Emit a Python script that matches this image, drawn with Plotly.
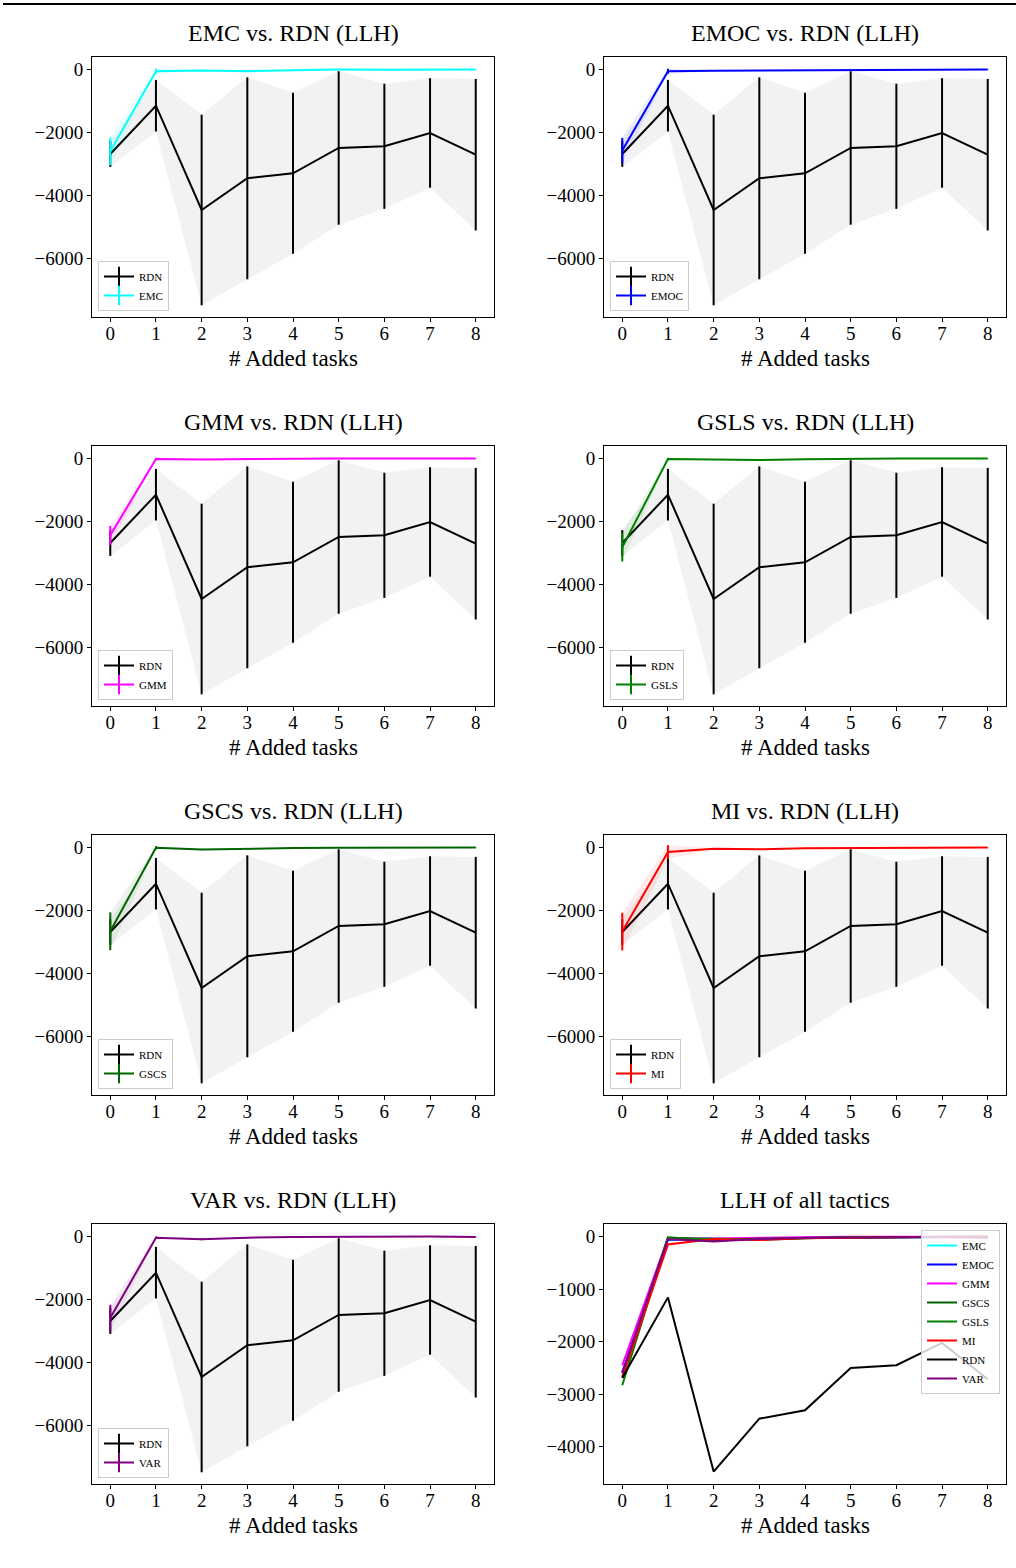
import plotly.graph_objects as go

# ---------------- data ----------------
x_tasks = [0, 1, 2, 3, 4, 5, 6, 7, 8]

rdn_mean = [-2693, -1157, -4474, -3466, -3307, -2502, -2448, -2025, -2715]
rdn_std = [410, 820, 3030, 3210, 2560, 2440, 1990, 1740, 2410]

emc_mean = [-2610, -60, -35, -60, -30, -10, -15, -15, -5]
emc_std = [440, 80, 20, 20, 15, 10, 10, 10, 8]

emoc_mean = [-2580, -60, -45, -40, -25, -15, -15, -10, -5]
emoc_std = [400, 80, 15, 15, 10, 10, 8, 8, 5]

gmm_mean = [-2450, -25, -35, -20, -10, -5, -5, -5, -5]
gmm_std = [300, 40, 15, 10, 8, 5, 5, 5, 5]

gsls_mean = [-2830, -25, -40, -55, -30, -10, -10, -5, -5]
gsls_std = [450, 40, 15, 15, 10, 8, 5, 5, 5]

gscs_mean = [-2670, -15, -70, -40, -25, -15, -10, -5, -5]
gscs_std = [600, 50, 20, 15, 10, 8, 5, 5, 5]

mi_mean = [-2680, -150, -45, -65, -30, -20, -5, -5, -5]
mi_std = [600, 220, 20, 20, 15, 10, 5, 5, 5]

var_mean = [-2600, -45, -95, -45, -20, -10, -10, -10, -20]
var_std = [420, 40, 30, 15, 10, 8, 8, 8, 8]

method_names = ["EMC", "EMOC", "GMM", "GSLS", "GSCS", "MI", "VAR"]
method_means = [emc_mean, emoc_mean, gmm_mean, gsls_mean, gscs_mean, mi_mean, var_mean]
method_stds = [emc_std, emoc_std, gmm_std, gsls_std, gscs_std, mi_std, var_std]
method_colors = {"EMC": (0, 255, 255), "EMOC": (0, 0, 255), "GMM": (255, 0, 255),
                 "GSLS": (0, 128, 0), "GSCS": (0, 100, 0), "MI": (255, 0, 0),
                 "VAR": (128, 0, 128), "RDN": (0, 0, 0)}

all_order = ["EMC", "EMOC", "GMM", "GSCS", "GSLS", "MI", "RDN", "VAR"]

x_ticks = [0, 1, 2, 3, 4, 5, 6, 7, 8]
y_ticks_pair = [0, -2000, -4000, -6000]
y_ticks_all = [0, -1000, -2000, -3000, -4000]

# ---------------- layout geometry ----------------
W, H = 1016, 1568
FONT = "Liberation Serif"
col_lr = [(92, 494), (604, 1006)]
row_tops = [57, 446, 835, 1224]
PANEL_H = 260


def rgb(c, a=1.0):
    return "rgba(%d,%d,%d,%s)" % (c[0], c[1], c[2], a)


def minus(v):
    return ("\u2212%d" % -v) if v < 0 else "%d" % v


fig = go.Figure()
annotations = []
layout_axes = {}
legends = {}


def add_band_and_line(i, name, mean, std, col, legend_id, fillcolor):
    xa, ya = "x%d" % (i + 1), "y%d" % (i + 1)
    upper = [m + s for m, s in zip(mean, std)]
    lower = [m - s for m, s in zip(mean, std)]
    fig.add_trace(go.Scatter(
        x=x_tasks + x_tasks[::-1], y=upper + lower[::-1], fill="toself",
        fillcolor=fillcolor, line=dict(width=0), mode="lines",
        showlegend=False, hoverinfo="skip", xaxis=xa, yaxis=ya))
    fig.add_trace(go.Scatter(
        x=x_tasks, y=mean, mode="lines", line=dict(color=rgb(col), width=2),
        error_y=dict(type="data", array=std, visible=True, thickness=2, width=0, color=rgb(col)),
        showlegend=False, xaxis=xa, yaxis=ya))
    # legend proxy (line with vertical tick like matplotlib errorbar handle)
    fig.add_trace(go.Scatter(
        x=[None], y=[None], mode="lines+markers", name=name,
        line=dict(color=rgb(col), width=2),
        marker=dict(symbol="line-ns-open", size=14, line=dict(width=2, color=rgb(col))),
        legend=legend_id, xaxis=xa, yaxis=ya))


for i in range(8):
    r, c = divmod(i, 2)
    x0, x1 = col_lr[c]
    top = row_tops[r]
    bot = top + PANEL_H
    dom_x = [x0 / W, x1 / W]
    dom_y = [1 - bot / H, 1 - top / H]
    legend_id = "legend" if i == 0 else "legend%d" % (i + 1)

    if i < 7:
        name = method_names[i]
        add_band_and_line(i, "RDN", rdn_mean, rdn_std, method_colors["RDN"], legend_id,
                          "rgba(128,128,128,0.1)")
        add_band_and_line(i, name, method_means[i], method_stds[i], method_colors[name], legend_id,
                          rgb(method_colors[name], 0.08))
        title = "%s vs. RDN (LLH)" % name
        yr = [-7876, 391]
        yt = y_ticks_pair
        legends[legend_id] = dict(
            x=(x0 + 6) / W, y=1 - (bot - 6) / H, xanchor="left", yanchor="bottom",
            bgcolor="rgba(255,255,255,0.8)", bordercolor="rgb(204,204,204)", borderwidth=1,
            font=dict(family=FONT, size=11, color="black"), tracegroupgap=0,
            itemwidth=30)
    else:
        lookup = dict(zip(method_names, method_means))
        lookup["RDN"] = rdn_mean
        for name in all_order:
            fig.add_trace(go.Scatter(
                x=x_tasks, y=lookup[name], mode="lines", name=name,
                line=dict(color=rgb(method_colors[name]), width=2),
                legend=legend_id, xaxis="x8", yaxis="y8"))
        title = "LLH of all tactics"
        yr = [-4710, 240]
        yt = y_ticks_all
        legends[legend_id] = dict(
            x=(x1 - 6) / W, y=1 - (top + 6) / H, xanchor="right", yanchor="top",
            bgcolor="rgba(255,255,255,0.8)", bordercolor="rgb(204,204,204)", borderwidth=1,
            font=dict(family=FONT, size=11, color="black"), tracegroupgap=0,
            itemwidth=30)

    axis_common = dict(showline=True, mirror=True, linecolor="black", linewidth=1,
                       ticks="outside", ticklen=4, tickwidth=1, tickcolor="black",
                       showgrid=False, zeroline=False,
                       tickfont=dict(family=FONT, size=19, color="black"))
    layout_axes["xaxis%d" % (i + 1)] = dict(
        domain=dom_x, range=[-0.4, 8.4], tickvals=x_ticks,
        ticktext=[str(v) for v in x_ticks], anchor="y%d" % (i + 1),
        ticklabelstandoff=-5, **axis_common)
    layout_axes["yaxis%d" % (i + 1)] = dict(
        domain=dom_y, range=yr, tickvals=yt, ticktext=[minus(v) for v in yt],
        anchor="x%d" % (i + 1), **axis_common)

    cx = (x0 + x1) / 2 / W
    annotations.append(dict(text=title, x=cx, y=1 - (top - 24) / H, xref="paper", yref="paper",
                            xanchor="center", yanchor="middle", showarrow=False,
                            font=dict(family=FONT, size=24, color="black")))
    annotations.append(dict(text="# Added tasks", x=cx, y=1 - (bot + 41) / H, xref="paper",
                            yref="paper", xanchor="center", yanchor="middle", showarrow=False,
                            font=dict(family=FONT, size=23, color="black")))

fig.update_layout(
    width=W, height=H, margin=dict(l=0, r=0, t=0, b=0),
    paper_bgcolor="white", plot_bgcolor="white",
    annotations=annotations,
    shapes=[dict(type="line", xref="paper", yref="paper", x0=3 / W, x1=1, y0=1 - 4 / H, y1=1 - 4 / H,
                 line=dict(color="black", width=2))],
    **layout_axes, **legends)

fig.write_html("out.html")
